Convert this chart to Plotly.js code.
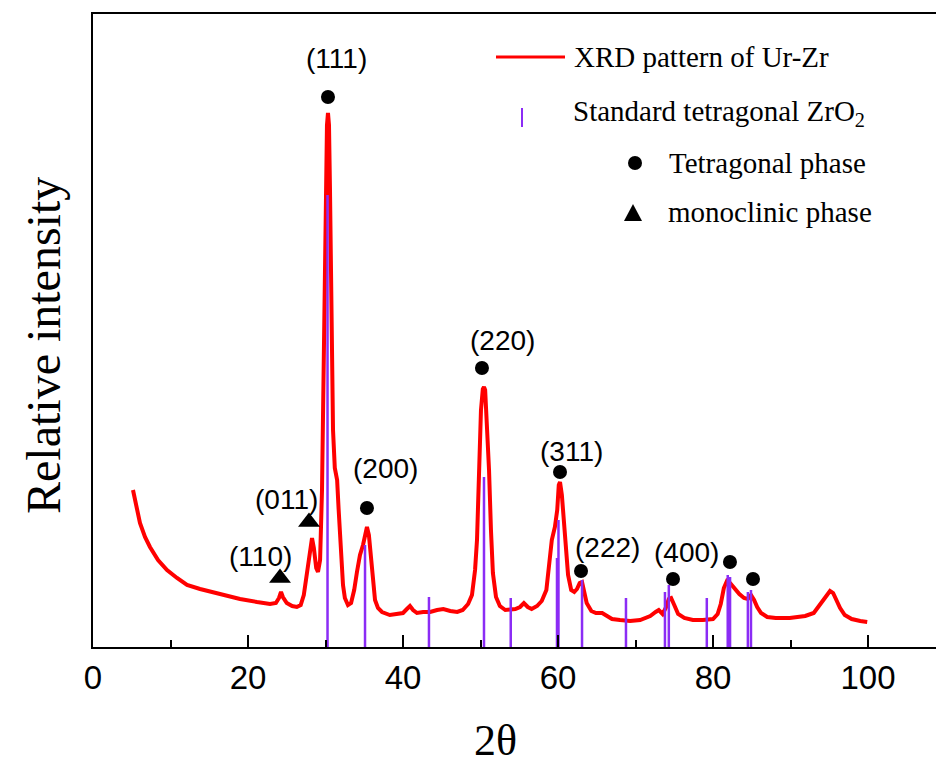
<!DOCTYPE html>
<html>
<head>
<meta charset="utf-8">
<script src="https://cdn.plot.ly/plotly-3.0.1.min.js"></script>
<style>html,body{margin:0;padding:0;background:#fff;overflow:hidden}</style>
</head>
<body>
<div id="chart" style="width:936px;height:769px"></div>
<script>
// XRD pattern of Ur-Zr (2θ in degrees, relative intensity in arbitrary units)
var xrd_2theta = [5.16,5.55,6.06,6.71,7.35,8.39,9.55,10.84,12.13,13.81,15.3,16.77,18.97,21.16,22.84,23.6,24.0,24.26,24.5,25.0,25.7,26.3,26.8,27.2,27.6,28.0,28.26,28.5,28.8,29.03,29.3,29.55,29.8,30.06,30.19,30.32,30.45,30.58,30.71,30.84,30.97,31.2,31.5,31.7,32.0,32.26,32.5,32.9,33.3,33.7,34.06,34.45,34.84,35.1,35.35,35.6,35.87,36.13,36.39,36.77,37.29,38.3,39.2,40.0,40.5,40.9,41.3,41.8,42.6,43.5,44.4,45.2,46.1,47.0,47.7,48.4,48.9,49.3,49.55,49.8,50.06,50.3,50.45,50.6,50.8,51.1,51.35,51.6,52.0,52.5,53.2,53.8,54.5,55.1,55.6,56.1,56.6,57.3,57.9,58.5,58.8,59.2,59.6,59.9,60.1,60.26,60.5,60.8,61.0,61.3,61.7,62.1,62.45,62.8,63.1,63.35,63.7,64.3,64.9,65.7,66.2,66.97,68.0,69.3,70.6,71.9,72.6,73.0,73.5,73.9,74.3,74.6,75.0,75.5,76.3,77.4,78.7,80.0,80.6,81.0,81.4,81.8,82.2,82.7,83.4,84.0,84.5,84.9,85.3,85.7,86.2,87.0,88.1,89.9,91.9,93.0,93.8,94.6,95.1,95.5,95.9,96.4,97.0,97.9,99.0,99.9];
var xrd_intensity = [157,142,124,110,100,87,77,69,62,58,55,52,48,45,43,44,49,55,50,44,41,40,42,52,72,95,109,99,79,75,87,157,297,467,522,534,522,457,367,277,217,179,167,137,92,62,49,42,44,57,75,92,102,112,120,112,92,67,47,39,35,32,33,34,38,41,37,34,35,35,37,38,36,35,37,43,52,77,107,177,237,258,260,257,227,177,117,74,50,41,37,37,38,40,44,40,38,41,46,57,82,107,120,137,162,165,152,122,92,72,57,55,58,64,65,55,44,36,34,34,32,28,27,26,27,31,35,37,33,39,48,49,42,33,29,27,27,28,33,43,59,66,64,59,53,49,48,52,47,40,34,30,29,29,31,34,42,51,56,54,47,39,32,28,26,25];

// Standard tetragonal ZrO2 reference lines
var stick_2theta = [30.26,35.1,43.35,50.45,53.9,59.87,60.06,63.1,68.77,73.8,74.3,79.2,81.9,82.2,84.5,84.9];
var stick_intensity = [452,102,50,170,49,89,127,67,49,55,62,49,72,70,55,57];

// Phase markers
var tetra_2theta = [30.32,35.35,50.19,60.26,62.97,74.84,82.19,85.16];
var tetra_intensity = [550,139,279,175,76,68,85,68];
var mono_2theta = [24.13,27.87];
var mono_intensity = [69,125];

// Miller index labels
var hkl_text = ["(111)","(011)","(110)","(200)","(220)","(311)","(222)","(400)"];
var hkl_2theta = [31.48,25.03,21.55,37.68,52.9,61.68,66.45,76.52];
var hkl_intensity = [589,148,91,179,307,196,100,95];

var xTickVals = [0,20,40,60,80,100];
var xTitle = '2θ';
var yTitle = 'Relative intensity';

// ---- build traces ----
var stickX = [], stickY = [];
for (var i = 0; i < stick_2theta.length; i++) {
  stickX.push(stick_2theta[i], stick_2theta[i], null);
  stickY.push(0, stick_intensity[i], null);
}

var traces = [
  {x: xrd_2theta, y: xrd_intensity, type: 'scatter', mode: 'lines',
   line: {color: '#ff0000', width: 4}, name: 'XRD pattern of Ur-Zr', showlegend: false},
  {x: stickX, y: stickY, type: 'scatter', mode: 'lines',
   line: {color: '#8b2cf5', width: 2.5}, name: 'Standard tetragonal ZrO2', showlegend: false},
  {x: tetra_2theta, y: tetra_intensity, type: 'scatter', mode: 'markers',
   marker: {symbol: 'circle', size: 14, color: '#000'}, name: 'Tetragonal phase', showlegend: false},
  {x: mono_2theta, y: mono_intensity, type: 'scatter', mode: 'markers',
   marker: {symbol: 'triangle-up', size: 19, color: '#000'}, name: 'monoclinic phase', showlegend: false}
];

// ---- layout geometry (pixels) ----
var W = 936, H = 769, L = 93, T = 14, B = 122;
var pw = W - L, ph = H - T - B;
function px(x) { return (x - L) / pw; }
function py(y) { return (H - B - y) / ph; }

var serif = 'Liberation Serif, Times New Roman, serif';
var annotations = [];
for (var j = 0; j < hkl_text.length; j++) {
  annotations.push({x: hkl_2theta[j], y: hkl_intensity[j], xref: 'x', yref: 'y',
    text: hkl_text[j], showarrow: false, xanchor: 'center', yanchor: 'middle',
    font: {family: 'Liberation Sans, Arial, sans-serif', size: 28, color: '#000'}});
}
var legendItems = [
  {t: 'XRD pattern of Ur-Zr', x: 572, y: 57},
  {t: 'Standard tetragonal ZrO<sub>2</sub>', x: 571, y: 113},
  {t: 'Tetragonal phase', x: 667, y: 163},
  {t: 'monoclinic phase', x: 666, y: 212}
];
legendItems.forEach(function (it) {
  annotations.push({x: px(it.x), y: py(it.y), xref: 'paper', yref: 'paper', text: it.t,
    showarrow: false, xanchor: 'left', yanchor: 'middle',
    font: {family: serif, size: 29, color: '#000'}});
});
// axis titles
annotations.push({x: px(495), y: py(741), xref: 'paper', yref: 'paper', text: xTitle,
  showarrow: false, xanchor: 'center', yanchor: 'middle', borderpad: 0,
  font: {family: serif, size: 44, color: '#000'}});
annotations.push({x: px(44), y: py(346), xref: 'paper', yref: 'paper', text: yTitle,
  showarrow: false, xanchor: 'center', yanchor: 'middle', textangle: -90,
  font: {family: serif, size: 48, color: '#000'}});

var shapes = [
  {type: 'line', xref: 'paper', yref: 'paper', x0: px(496), x1: px(565), y0: py(57), y1: py(57),
   line: {color: '#ff0000', width: 3}},
  {type: 'line', xref: 'paper', yref: 'paper', x0: px(522), x1: px(522), y0: py(108), y1: py(127),
   line: {color: '#8b2cf5', width: 2}},
  {type: 'circle', xref: 'paper', yref: 'paper', x0: px(628), x1: px(642), y0: py(156), y1: py(170),
   fillcolor: '#000', line: {width: 0}},
  {type: 'path', xref: 'paper', yref: 'paper',
   path: 'M ' + px(624) + ' ' + py(221) + ' L ' + px(642) + ' ' + py(221) + ' L ' + px(633) + ' ' + py(204) + ' Z',
   fillcolor: '#000', line: {width: 0}}
];

var layout = {
  width: W, height: H,
  margin: {l: L, r: 0, t: T, b: B},
  paper_bgcolor: '#fff', plot_bgcolor: '#fff',
  showlegend: false,
  xaxis: {
    range: [0, pw / 7.75], tickvals: xTickVals, ticktext: xTickVals.map(String),
    ticks: 'inside', ticklen: 12, tickwidth: 2, tickcolor: '#000',
    minor: {tickvals: [10,30,50,70,90], ticks: 'inside', ticklen: 7, tickwidth: 2, tickcolor: '#000'},
    showline: true, mirror: true, linewidth: 2, linecolor: '#000',
    showgrid: false, zeroline: false,
    tickfont: {family: 'Liberation Sans, Arial, sans-serif', size: 33, color: '#000'}
  },
  yaxis: {
    range: [0, ph], showticklabels: false, ticks: '',
    showline: true, linewidth: 2, linecolor: '#000',
    showgrid: false, zeroline: false
  },
  annotations: annotations,
  shapes: shapes
};

Plotly.newPlot('chart', traces, layout, {displayModeBar: false, staticPlot: true});
</script>
</body>
</html>
